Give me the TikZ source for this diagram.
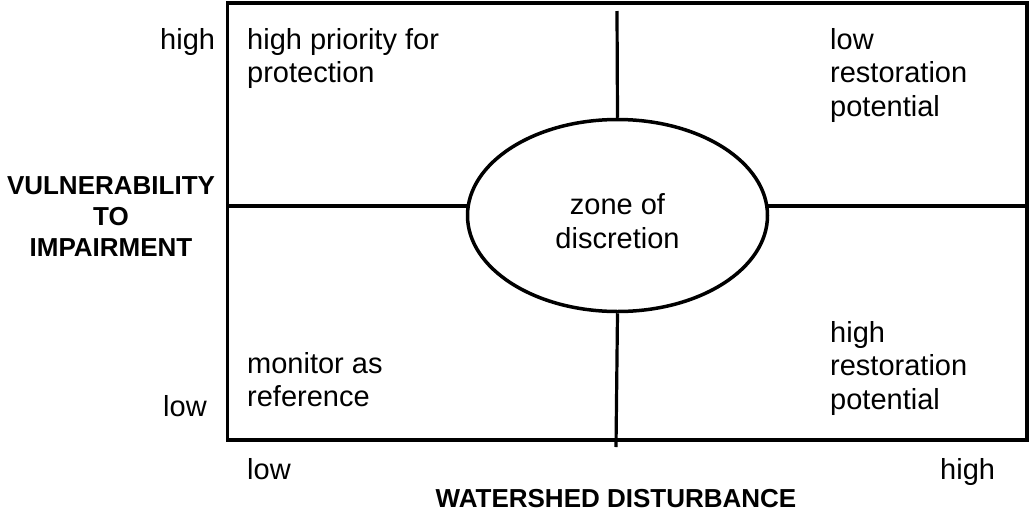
\documentclass[tikz,border=0pt]{standalone}
\usepackage{fontspec}
\setmainfont{Liberation Sans}
\usetikzlibrary{shapes.geometric,calc}
\begin{document}
\begin{tikzpicture}[x=1pt,y=-1pt,
  frame/.style={line width=3.5pt},
  divider/.style={line width=3.2pt},
  cell/.style={inner sep=0pt,align=left,font=\fontsize{29}{33.5}\selectfont},
  tick/.style={inner sep=0pt,font=\fontsize{29}{33.5}\selectfont},
  axis/.style={inner sep=0pt,align=center,font=\bfseries\fontsize{26}{31}\selectfont}]
  \useasboundingbox (0,0) rectangle (1029,512);

  % outer frame of the matrix
  \draw[frame] (227.5,3) rectangle (1027,440);

  % central zone
  \node[draw,frame,ellipse,inner sep=0pt,minimum width=300pt,minimum height=192pt]
    (zone) at (617.5,215.5) {};
  \node[cell,align=center] (zonetext) at (617.5,221) {zone of\\discretion};

  % dividers between the quadrants
  \coordinate (lft) at (227.5,206);
  \coordinate (rgt) at (1027,206);
  \coordinate (topend) at (617,11);
  \coordinate (botend) at (616,447);
  \draw[divider] (lft) -- ($(zone.center)+(-150.2,-9.5)$);
  \draw[divider] ($(zone.center)+(150.2,-9.5)$) -- (rgt);
  \draw[divider] (zone.north) -- (topend);
  \draw[divider] (zone.south) -- (botend);

  % quadrant labels
  \node[cell,anchor=north west] (q1) at (247,28) {high priority for\\protection};
  \node[cell,anchor=north west] (q2) at (830,28) {low\\restoration\\potential};
  \node[cell,anchor=north west] (q3) at (247,352) {monitor as\\reference};
  \node[cell,anchor=north west] (q4) at (830,321) {high\\restoration\\potential};

  % axis ticks
  \node[tick,anchor=base west] (yhigh) at (160,49) {high};
  \node[tick,anchor=base west] (ylow) at (163,416) {low};
  \node[tick,anchor=base west] (xlow) at (247,479) {low};
  \node[tick,anchor=base west] (xhigh) at (940,479) {high};

  % axis titles
  \node[axis,anchor=north] (ytitle) at (111,176) {VULNERABILITY\\TO\\IMPAIRMENT};
  \node[axis,anchor=base] (xtitle) at (616,507) {WATERSHED DISTURBANCE};
\end{tikzpicture}
\end{document}
